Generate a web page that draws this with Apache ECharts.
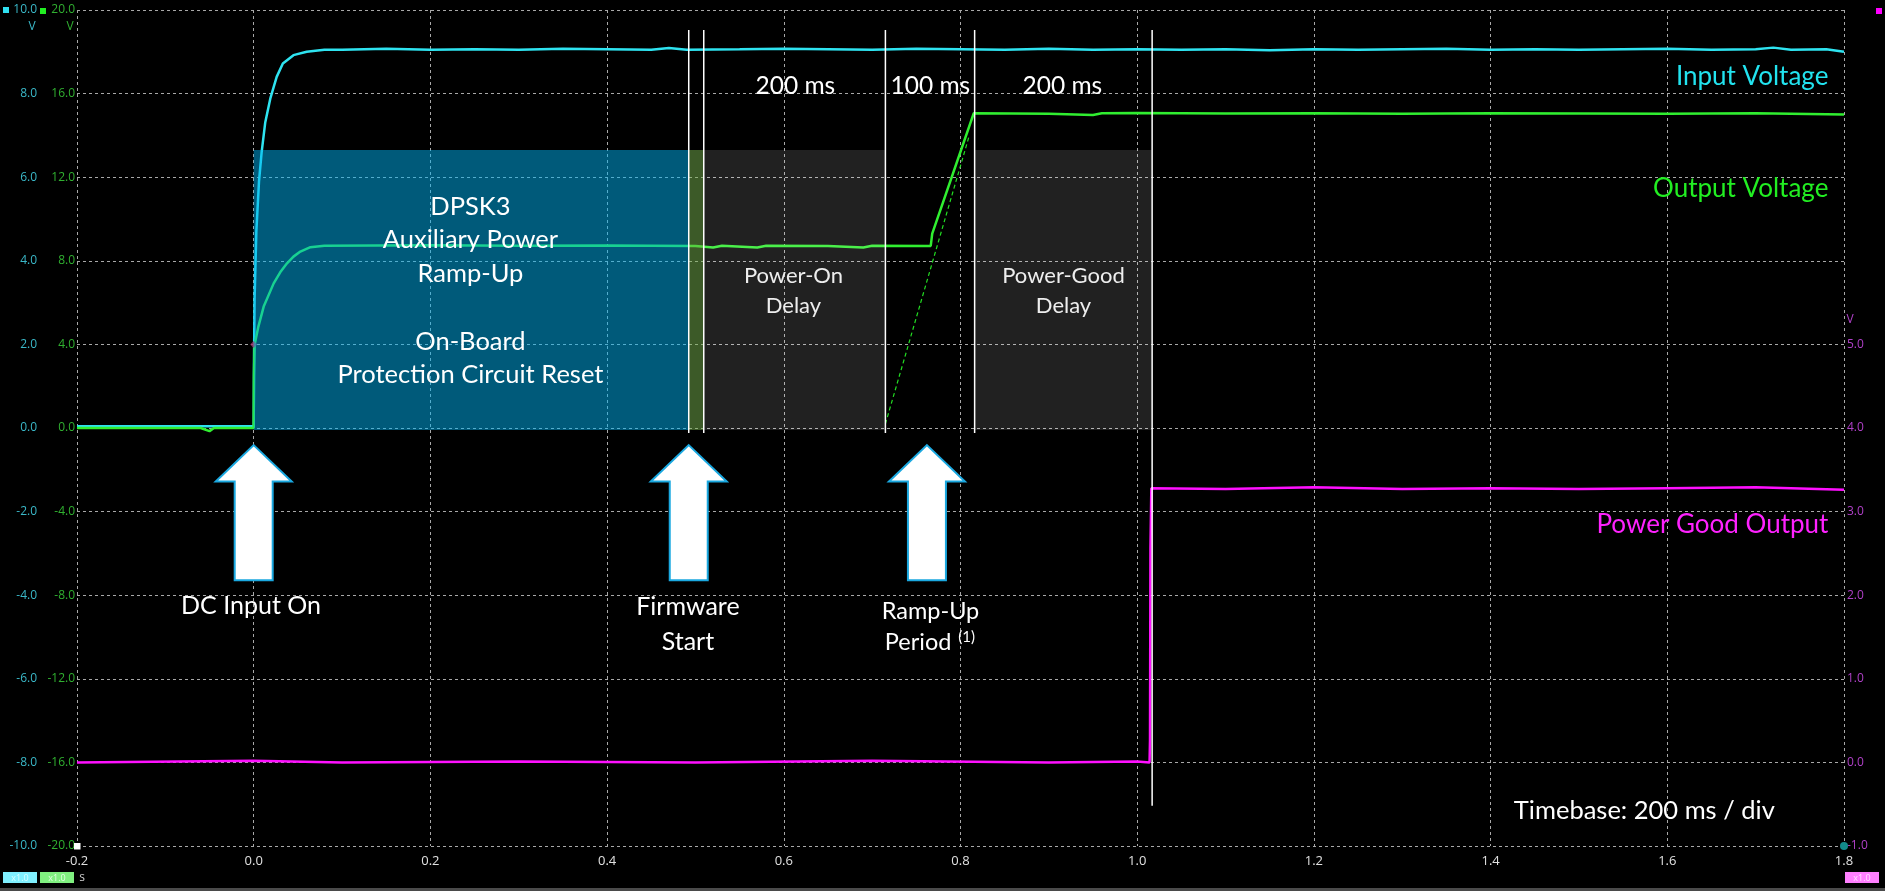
<!DOCTYPE html>
<html><head><meta charset="utf-8">
<script src="https://cdn.jsdelivr.net/npm/echarts@6/dist/echarts.min.js"></script>
<style>html,body{margin:0;padding:0;background:#000;overflow:hidden}#c{width:1885px;height:891px}</style>
</head><body><div id="c"></div>
<script>
// ---------- data ----------
const timeMin = -0.2, timeMax = 1.8, timeStep = 0.2;           // s
const inMin = -10, inMax = 10, inStep = 2;                      // input voltage axis (V)
const outMin = -20, outMax = 20, outStep = 4;                   // output voltage axis (V)
const pgMin = -1, pgMax = 9, pgStep = 1, pgLabelMax = 5;        // power-good axis (V)

const inputVoltage = [
 [-0.2,0.04],[-0.1,0.04],[0,0.04],[0.0003,1.5],[0.001,3.1],[0.003,4.7],[0.006,5.9],[0.009,6.6],
 [0.013,7.3],[0.019,7.9],[0.026,8.4],[0.033,8.72],[0.045,8.92],[0.06,9.0],[0.08,9.05],
 [0.1,9.05],[0.15,9.07],[0.2,9.05],[0.25,9.06],[0.3,9.05],[0.35,9.07],[0.4,9.06],[0.45,9.05],
 [0.47,9.09],[0.49,9.05],[0.55,9.06],[0.6,9.07],[0.65,9.06],[0.7,9.05],[0.75,9.07],[0.8,9.06],
 [0.85,9.05],[0.9,9.07],[0.95,9.05],[1.0,9.06],[1.05,9.05],[1.1,9.06],[1.15,9.04],[1.2,9.06],
 [1.25,9.05],[1.3,9.06],[1.35,9.07],[1.4,9.05],[1.45,9.06],[1.5,9.05],[1.55,9.06],[1.6,9.07],
 [1.65,9.05],[1.7,9.06],[1.72,9.1],[1.74,9.05],[1.78,9.06],[1.8,9.0]
];
const outputVoltage = [
 [-0.2,0.0],[-0.06,0.0],[-0.05,-0.15],[-0.045,0.0],[0,0.0],[0.0003,2.5],[0.001,3.97],[0.005,4.8],
 [0.0113,5.81],[0.0226,6.92],[0.03,7.45],[0.0377,7.88],[0.045,8.2],[0.0528,8.44],[0.0642,8.65],
 [0.08,8.72],[0.2,8.74],[0.3,8.72],[0.4,8.73],[0.5,8.71],[0.52,8.64],[0.53,8.72],[0.57,8.64],
 [0.58,8.72],[0.65,8.71],[0.69,8.64],[0.7,8.72],[0.7663,8.71],[0.768,9.3],[0.770,9.39],
 [0.815,15.06],[0.9,15.04],[0.95,14.98],[0.96,15.06],[1.0,15.07],[1.1,15.05],[1.2,15.06],
 [1.3,15.04],[1.4,15.06],[1.5,15.05],[1.6,15.04],[1.7,15.06],[1.8,15.0]
];
const powerGood = [
 [-0.2,0.0],[0.0,0.02],[0.1,0.0],[0.3,0.01],[0.5,0.0],[0.7,0.02],[0.9,0.0],[1.0,0.01],
 [1.014,0.0],[1.0145,0.27],[1.015,2.56],[1.016,3.28],[1.1,3.27],[1.2,3.29],[1.3,3.27],
 [1.4,3.28],[1.5,3.27],[1.6,3.28],[1.7,3.29],[1.8,3.26]
];
const rampGuide = [[0.715,0.2],[0.81,14.0]];            // dashed extrapolation (output axis)
const triggerPoint = [[0,2.0]];                          // small marker (input axis)

const phaseStart = [0, 0.4924, 0.5094, 0.816];
const phaseEnd   = [0.4924, 0.5094, 0.715, 1.0169];
const phaseKind  = [0, 1, 2, 2];
const phaseTop = 6.65, phaseBottom = -0.05;              // input-axis values

const markerTimes  = [0.4924, 0.5094, 0.715, 0.816, 1.0169];
const markerTop    = [9.52, 9.52, 9.52, 9.52, 9.52];
const markerBottom = [-0.12, -0.12, -0.12, -0.12, -9.04];

const arrowTimes = [0, 0.4924, 0.762];
const arrowTip = -0.41, arrowHeadBase = -1.28, arrowBottom = -3.64;

// annotation layout (anchors in data units of time / input-voltage axis)
const annotationLayout = [
 {text:'DPSK3', t:0.2453, v:5.29, size:25.5, color:'#ffffff'},
 {text:'Auxiliary Power', t:0.2453, v:4.50, size:25.5, color:'#ffffff'},
 {text:'Ramp-Up', t:0.2453, v:3.68, size:25.5, color:'#ffffff'},
 {text:'On-Board', t:0.2453, v:2.06, size:25.5, color:'#ffffff'},
 {text:'Protection Circuit Reset', t:0.2453, v:1.27, size:25.5, color:'#ffffff'},
 {text:'200 ms', t:0.6131, v:8.18, size:24.5, color:'#ffffff'},
 {text:'100 ms', t:0.7659, v:8.18, size:24.5, color:'#ffffff'},
 {text:'200 ms', t:0.9153, v:8.18, size:24.5, color:'#ffffff'},
 {text:'Power-On', t:0.6109, v:3.64, size:22, color:'#eeeeee'},
 {text:'Delay', t:0.6109, v:2.93, size:22, color:'#eeeeee'},
 {text:'Power-Good', t:0.9166, v:3.64, size:22, color:'#eeeeee'},
 {text:'Delay', t:0.9166, v:2.93, size:22, color:'#eeeeee'},
 {text:'DC Input On', t:-0.003, v:-4.25, size:25, color:'#ffffff'},
 {text:'Firmware', t:0.4915, v:-4.29, size:25, color:'#ffffff'},
 {text:'Start', t:0.4915, v:-5.11, size:25, color:'#ffffff'},
 {text:'Ramp-Up', t:0.766, v:-4.38, size:23.5, color:'#ffffff'},
 {text:'Period', t:0.752, v:-5.12, size:23.5, color:'#ffffff'},
 {text:'(1)', t:0.807, v:-5.0, size:15, color:'#ffffff'},
 {text:'Input Voltage', t:1.7823, v:8.40, size:26, color:'#22e3ef', align:'right'},
 {text:'Output Voltage', t:1.7823, v:5.72, size:26, color:'#22ee22', align:'right'},
 {text:'Power Good Output', t:1.7823, v:-2.32, size:26, color:'#ff22ff', align:'right'},
 {text:'Timebase: 200 ms / div', t:1.574, v:-9.16, size:25.5, color:'#ffffff'}
];

// ---------- chart ----------
const FONT = 'Lato, "Open Sans", sans-serif';
const AXFONT = '"Open Sans", Lato, sans-serif';
const chart = echarts.init(document.getElementById('c'));
const split = {show:true, lineStyle:{color:'#a8a8a8', type:[3,3], width:1}};
const phaseColors = ['rgba(0,180,244,0.5)','rgba(120,180,80,0.5)','rgba(255,255,255,0.13)'];

chart.setOption({
 backgroundColor:'#000',
 animation:false,
 grid:{left:77, right:41, top:10, bottom:45},
 xAxis:{type:'value', min:timeMin, max:timeMax, interval:timeStep,
   axisLine:{show:false}, axisTick:{show:false}, splitLine:split,
   axisLabel:{color:'#e0e0e0', fontSize:13, fontFamily:AXFONT, margin:9,
     formatter:v=>v.toFixed(1)}},
 yAxis:[
  {type:'value', position:'left', offset:38, min:inMin, max:inMax, interval:inStep,
   axisLine:{show:false}, axisTick:{show:false}, splitLine:split,
   axisLabel:{color:'#3ab8c8', fontSize:12, fontFamily:AXFONT, margin:2, formatter:v=>v.toFixed(1)}},
  {type:'value', position:'left', offset:0, min:outMin, max:outMax, interval:outStep,
   axisLine:{show:false}, axisTick:{show:false}, splitLine:{show:false},
   axisLabel:{color:'#30b030', fontSize:12, fontFamily:AXFONT, margin:2, formatter:v=>v.toFixed(1)}},
  {type:'value', position:'right', min:pgMin, max:pgMax, interval:pgStep,
   axisLine:{show:false}, axisTick:{show:false}, splitLine:{show:false},
   axisLabel:{color:'#b040c8', fontSize:12, fontFamily:AXFONT, margin:3,
     formatter:v=>v<=pgLabelMax?v.toFixed(1):''}}
 ],
 series:[
  {type:'line', name:'Input Voltage', yAxisIndex:0, data:inputVoltage, showSymbol:false, z:3,
   lineStyle:{color:'#2ee3f0', width:2.5}},
  {type:'line', name:'Output Voltage', yAxisIndex:1, data:outputVoltage, showSymbol:false, z:3,
   lineStyle:{color:'#30ee30', width:2.5}},
  {type:'line', name:'Power Good Output', yAxisIndex:2, data:powerGood, showSymbol:false, z:3,
   lineStyle:{color:'#ff10ff', width:2.5}},
  {type:'line', name:'ramp guide', yAxisIndex:1, data:rampGuide, showSymbol:false, z:3,
   lineStyle:{color:'#22dd22', width:1.2, type:[4,3]}},
  {type:'scatter', yAxisIndex:0, data:triggerPoint, symbol:'diamond', symbolSize:7, z:3,
   itemStyle:{color:'#a0306a'}},
  {type:'custom', name:'phases', yAxisIndex:0, z:4,
   data:phaseStart.map((s,i)=>[s, phaseEnd[i], phaseKind[i]]),
   renderItem:(p,api)=>{
     const a = api.coord([api.value(0), phaseTop]);
     const b = api.coord([api.value(1), phaseBottom]);
     return {type:'rect', shape:{x:a[0], y:a[1], width:b[0]-a[0], height:b[1]-a[1]},
       style:{fill:phaseColors[api.value(2)]}};
   }},
  {type:'custom', name:'markers', yAxisIndex:0, z:5,
   data:markerTimes.map((t,i)=>[t, markerTop[i], markerBottom[i]]),
   renderItem:(p,api)=>{
     const a = api.coord([api.value(0), api.value(1)]);
     const b = api.coord([api.value(0), api.value(2)]);
     return {type:'line', shape:{x1:a[0], y1:a[1], x2:b[0], y2:b[1]},
       style:{stroke:'#ffffff', lineWidth:1.5}};
   }},
  {type:'custom', name:'arrows', yAxisIndex:0, z:6,
   data:arrowTimes.map(t=>[t]),
   renderItem:(p,api)=>{
     const tip = api.coord([api.value(0), arrowTip]);
     const hb = api.coord([api.value(0), arrowHeadBase]);
     const bt = api.coord([api.value(0), arrowBottom]);
     const x = tip[0], H = 38, S = 19;
     return {type:'polygon', shape:{points:[[x,tip[1]],[x+H,hb[1]],[x+S,hb[1]],[x+S,bt[1]],
        [x-S,bt[1]],[x-S,hb[1]],[x-H,hb[1]]]},
       style:{fill:'#ffffff', stroke:'#1aa8e0', lineWidth:2, lineJoin:'miter'}};
   }},
  {type:'custom', name:'annotations', yAxisIndex:0, z:7,
   data:annotationLayout.map((a,i)=>[a.t, a.v, i]),
   renderItem:(p,api)=>{
     const a = annotationLayout[api.value(2)];
     const pt = api.coord([api.value(0), api.value(1)]);
     return {type:'text', x:pt[0], y:pt[1],
       style:{text:a.text, fill:a.color, font:a.size+'px '+FONT,
         align:a.align||'center', verticalAlign:'middle'}};
   }}
 ],
 graphic:[
  {type:'rect', shape:{x:3, y:7, width:6, height:6}, style:{fill:'#30e0f0'}},
  {type:'rect', shape:{x:40, y:8, width:6, height:6}, style:{fill:'#22ee22'}},
  {type:'text', x:32, y:27, style:{text:'V', fill:'#3ab8c8', font:'12px '+AXFONT, align:'center', verticalAlign:'middle'}},
  {type:'text', x:70, y:27, style:{text:'V', fill:'#30b030', font:'12px '+AXFONT, align:'center', verticalAlign:'middle'}},
  {type:'rect', shape:{x:1876, y:8, width:6, height:6}, style:{fill:'#ff00ff'}},
  {type:'text', x:1850, y:320, style:{text:'V', fill:'#b040c8', font:'12px '+AXFONT, align:'center', verticalAlign:'middle'}},
  {type:'rect', shape:{x:74, y:843, width:6.5, height:6.5}, style:{fill:'#ffffff'}, z:10},
  {type:'circle', shape:{cx:1844, cy:846, r:4}, style:{fill:'#128a8a'}, z:10},
  {type:'rect', shape:{x:3, y:872, width:34, height:11}, style:{fill:'#80f0ff'}},
  {type:'text', x:20, y:878, style:{text:'x1.0', fill:'#d8ffff', font:'9px '+AXFONT, align:'center', verticalAlign:'middle'}},
  {type:'rect', shape:{x:40, y:872, width:34, height:11}, style:{fill:'#80f080'}},
  {type:'text', x:57, y:878, style:{text:'x1.0', fill:'#e0ffe0', font:'9px '+AXFONT, align:'center', verticalAlign:'middle'}},
  {type:'text', x:82, y:878, style:{text:'s', fill:'#cccccc', font:'12px '+AXFONT, align:'center', verticalAlign:'middle'}},
  {type:'rect', shape:{x:1845, y:872, width:34, height:11}, style:{fill:'#ff80ff'}},
  {type:'text', x:1862, y:878, style:{text:'x1.0', fill:'#ffe0ff', font:'9px '+AXFONT, align:'center', verticalAlign:'middle'}},
  {type:'rect', shape:{x:0, y:888, width:1885, height:3}, style:{fill:'#4a4a4a'}}
 ]
});
</script></body></html>
